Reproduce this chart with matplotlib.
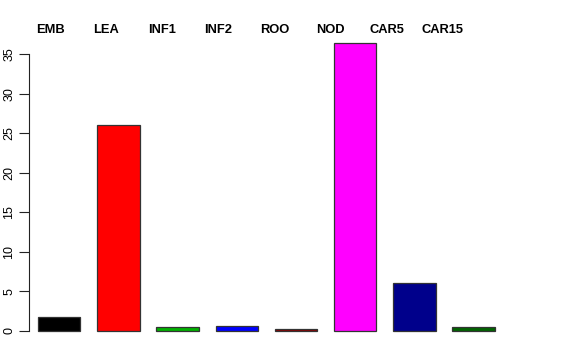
import matplotlib
matplotlib.use("Agg")
import matplotlib.pyplot as plt
import numpy as np

# Data
categories = ["EMB", "LEA", "INF1", "INF2", "ROO", "NOD", "CAR5", "CAR15"]
values = [1.78, 26.0, 0.43, 0.56, 0.22, 36.4, 6.05, 0.51]
colors = ["#000000", "#FF0000", "#00B400", "#0000FF", "#8B0000",
          "#FF00FF", "#00008B", "#006400"]
y_ticks = [0, 5, 10, 15, 20, 25, 30, 35]

plt.rcParams["font.family"] = ["Liberation Sans", "DejaVu Sans"]

fig = plt.figure(figsize=(5.76, 3.6), dpi=100)
ax = fig.add_axes([0.0509, 0.0494, 0.8397, 0.8622])

# R barplot style: width 1, space 0.4
x_left = 0.4 + 1.4 * np.arange(len(values))
ax.bar(x_left, values, width=1.0, align="edge", color=colors,
       edgecolor="#333333", linewidth=0.9)

ax.set_xlim(0.194, 11.632)
ymax = max(values)
ax.set_ylim(-0.04 * ymax, 1.04 * ymax)

for side in ["top", "right", "bottom"]:
    ax.spines[side].set_visible(False)
ax.spines["left"].set_bounds(0, 35)
ax.spines["left"].set_linewidth(0.8)
ax.spines["left"].set_color("#222222")

ax.set_xticks([])
ax.set_yticks(y_ticks)
ax.set_yticklabels([str(t) for t in y_ticks], rotation=90, va="center",
                   fontsize=9)
ax.tick_params(axis="y", length=7, width=0.8, pad=3, color="#222222")

# Category labels above the plot
label_x = 0.684 + 1.3275 * np.arange(len(categories))
for x, name in zip(label_x, categories):
    ax.text(x, 1.006, name, transform=ax.get_xaxis_transform(),
            ha="center", va="center", fontsize=9.3, fontweight="bold")

fig.savefig("out.png", dpi=100)
